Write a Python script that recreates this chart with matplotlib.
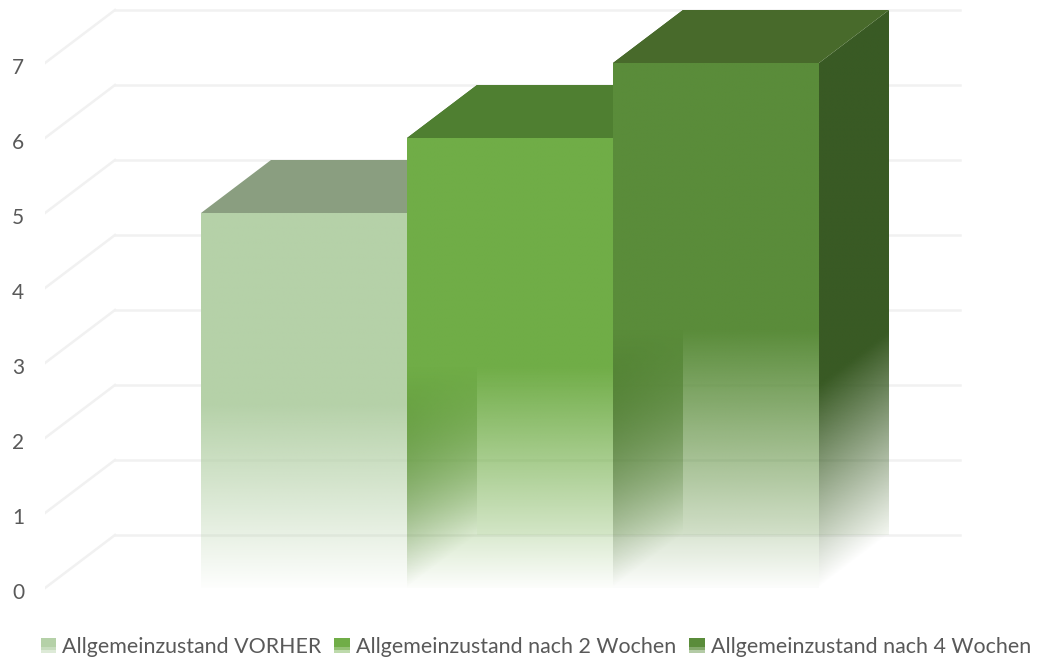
import numpy as np
import matplotlib
matplotlib.use("Agg")
import matplotlib.pyplot as plt
from matplotlib.legend_handler import HandlerBase
from matplotlib.patches import Patch, Polygon, Rectangle
from matplotlib.transforms import ScaledTranslation

plt.rcParams["font.family"] = ["Lato", "DejaVu Sans"]

categories = ["Allgemeinzustand VORHER", "Allgemeinzustand nach 2 Wochen", "Allgemeinzustand nach 4 Wochen"]
values = [5, 6, 7]
y_ticks = [0, 1, 2, 3, 4, 5, 6, 7]

front_colors = ["#b5d1a8", "#70ad47", "#5a8c3a"]
top_colors = ["#8a9e80", "#4f7f31", "#486a2b"]
side_colors = ["#b5d1a8", "#4a7230", "#3a6020"]
right_color = "#395a24"
grid_color = "#f1f1f1"
text_color = "#595959"

W, H = 1038, 661
# one category = 206 px, one unit of value = 75 px
dx = 70 / 206
dy = 53 / 75
hw = 0.5

fig = plt.figure(figsize=(W / 100, H / 100), dpi=100)
ax = fig.add_axes([45 / W, 1 - 600 / H, 955 / W, 600 / H])
ax.set_facecolor("none")


def paint(poly, color, alpha_fn, z):
    # gradient image clipped to a face of the box
    poly = np.array(poly)
    x0, x1 = poly[:, 0].min(), poly[:, 0].max()
    y0, y1 = poly[:, 1].min(), poly[:, 1].max()
    xs = np.linspace(x0, x1, 120)
    ys = np.linspace(y0, y1, 400)
    xx, yy = np.meshgrid(xs, ys)
    img = np.zeros(xx.shape + (4,))
    img[..., :3] = matplotlib.colors.to_rgb(color)
    img[..., 3] = alpha_fn(xx, yy)
    im = ax.imshow(img, extent=(x0, x1, y0, y1), origin="lower", aspect="auto",
                   interpolation="bilinear", zorder=z)
    im.set_clip_path(Polygon(poly, transform=ax.transData))


# gridlines: left wall and back wall
for v in y_ticks:
    ax.plot([-hw - 156 / 206 + 0, -hw - 156 / 206 + dx], [v, v + dy], color=grid_color, lw=1.8, zorder=1)
    ax.plot([-hw - 156 / 206 + dx, 656 / 206], [v + dy, v + dy], color=grid_color, lw=1.8, zorder=1)

z = 2
for i, h in enumerate(values):
    left, right = i - hw, i + hw
    fade = h * 0.5

    if i > 0:
        # faint back wall of the box
        paint([(left + dx, dy), (right + dx, dy), (right + dx, h + dy), (left + dx, h + dy)],
              front_colors[i], lambda x, y: np.full(x.shape, 0.07), z)
        z += 1

        # left wall, seen through the front
        def left_alpha(x, y, l=left, h=h):
            d = y - (x - l) / dx * dy
            return np.clip(d / (h * 0.42), 0, 1)
        paint([(left, 0), (left + dx, dy), (left + dx, h + dy), (left, h)], side_colors[i], left_alpha, z)
        z += 1

    if i == len(values) - 1:
        def right_alpha(x, y, r=right, h=h):
            d = y - (x - r) / dx * dy
            return np.clip(d / (h * 0.385), 0, 1)
        paint([(right, 0), (right + dx, dy), (right + dx, h + dy), (right, h)], right_color, right_alpha, z)
        z += 1

    ax.add_patch(Polygon([(left, h), (left + dx, h + dy), (right + dx, h + dy), (right, h)],
                         facecolor=top_colors[i], edgecolor="none", zorder=z))
    z += 1

    def front_alpha(x, y, fade=fade):
        return np.clip(0.02 + y / fade, 0, 1)
    paint([(left, 0), (right, 0), (right, h), (left, h)], front_colors[i], front_alpha, z)
    z += 1

ax.set_xlim(-259 / 206, 696 / 206)
ax.set_ylim(-12 / 75, 588 / 75)
ax.set_xticks([])
ax.set_yticks(y_ticks)
ax.tick_params(axis="y", length=0, pad=15, labelsize=15, labelcolor=text_color)
for t in ax.get_yticklabels():
    t.set_transform(t.get_transform() + ScaledTranslation(0, -2 / 72, fig.dpi_scale_trans))
for s in ax.spines.values():
    s.set_visible(False)


class FadeSwatch(HandlerBase):
    def create_artists(self, legend, orig, xd, yd, width, height, fontsize, trans):
        out = []
        for k, a in enumerate([1, 1, 1, 0.75, 0.45]):
            r = Rectangle((-xd, -yd + height * (4 - k) / 5), width, height / 5 + 0.2,
                          facecolor=orig.get_facecolor(), edgecolor="none", alpha=a, transform=trans)
            out.append(r)
        return out


handles = [Patch(facecolor=c) for c in front_colors]
fig.legend(handles, categories, handler_map={Patch: FadeSwatch()}, loc="center",
           bbox_to_anchor=(536 / W, 1 - 647 / H), ncol=3, frameon=False, fontsize=15.4,
           labelcolor=text_color, handlelength=0.72, handleheight=0.72, handletextpad=0.3,
           columnspacing=0.6, borderpad=0, borderaxespad=0)

fig.savefig("out.png", dpi=100, facecolor="white")
